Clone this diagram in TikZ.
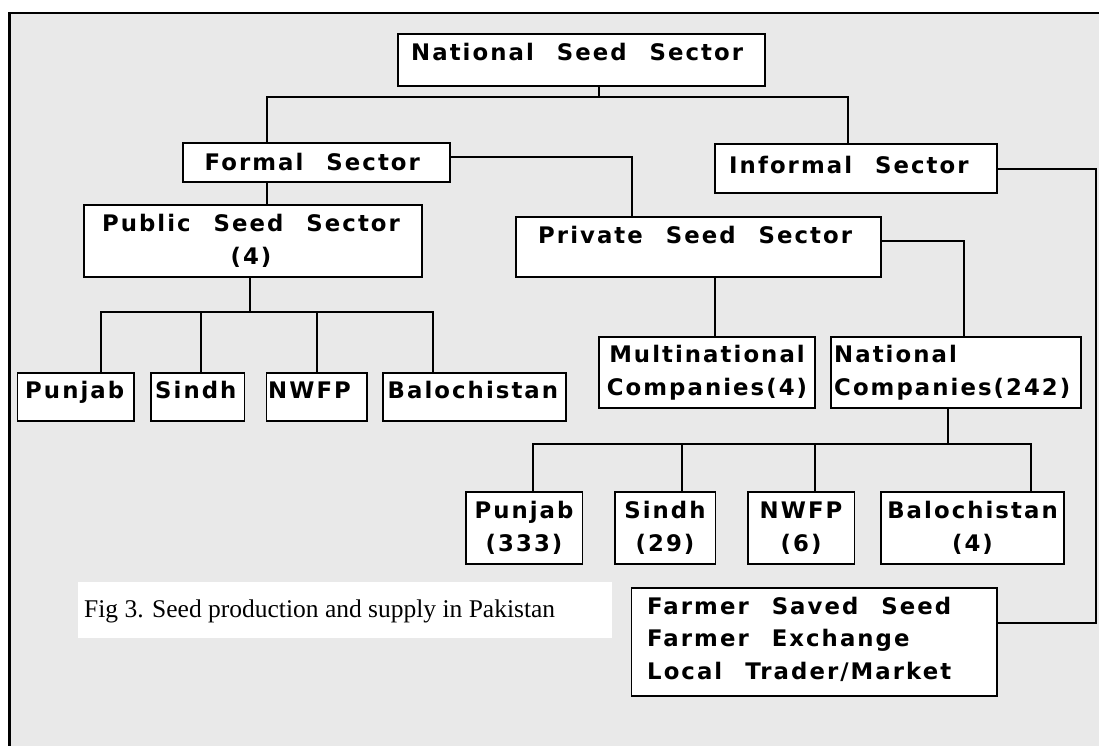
\documentclass[tikz,border=0pt]{standalone}
\usepackage{fontspec}
\setmainfont{Liberation Serif}
\newfontfamily\boxfamily[LetterSpace=9,WordSpace=2.3]{DejaVu Sans}
\usetikzlibrary{fit}
\definecolor{panel}{RGB}{233,233,233}
\tikzset{
  boxst/.style={draw=black, fill=white, line width=1.5pt, inner sep=0pt},
  lbl/.style={inner sep=0pt, font=\boxfamily\bfseries\fontsize{22.8}{32.5}\selectfont, anchor=base west},
  clbl/.style={lbl, anchor=base, align=center},
  wire/.style={draw=black, line width=1.5pt},
}
\newcommand\mkbox[5]{\node[boxst, fit={(#2,#3) (#4,#5)}] (#1) {};}
\begin{document}
\begin{tikzpicture}[x=1pt,y=-1pt]
\useasboundingbox (0,0) rectangle (1099,745);
\clip (0,0) rectangle (1099,745);
\fill[white] (0,0) rectangle (1099,745);
\draw[fill=panel, line width=2.2pt] (9.5,12.7) rectangle (1130,780);

% boxes
\mkbox{nat}{398}{34}{765}{86}
\mkbox{formal}{183}{143}{450}{182}
\mkbox{inf}{715}{144}{997}{193}
\mkbox{pub}{84}{205}{422}{277}
\mkbox{priv}{516}{217}{881}{277}
\mkbox{pa}{17.5}{373}{134}{421}
\mkbox{pb}{151}{373}{244.5}{421}
\mkbox{pc}{266.5}{373}{367}{421}
\mkbox{pd}{383}{373}{566}{421}
\mkbox{multi}{599}{337}{815}{408}
\mkbox{natc}{831}{337}{1081}{408}
\mkbox{sa}{466}{492}{582.5}{564}
\mkbox{sb}{615}{492}{715.5}{564}
\mkbox{sc}{748}{492}{854.5}{564}
\mkbox{sd}{881}{492}{1064}{564}
\mkbox{farm}{631.5}{588}{997}{696}

% caption panel
\node[fill=white, inner sep=0pt, fit={(78,582) (612,638)}] (cap) {};
\node[inner sep=0pt, anchor=base west, font=\fontsize{25.5}{30}\selectfont] (cap-t) at (84,617) {Fig 3. Seed production and supply in Pakistan};

% labels (multi-line labels are placed by the baseline of their last line)
\node[lbl] (nat-t) at (411,60) {National Seed Sector};
\node[lbl] (formal-t) at (204.5,170) {Formal Sector};
\node[lbl] (inf-t) at (729,173) {Informal Sector};
\node[clbl] (pub-t) at (251,264) {Public Seed Sector\\(4)};
\node[lbl] (priv-t) at (538,243) {Private Seed Sector};
\node[lbl] (pa-t) at (25,398) {Punjab};
\node[lbl] (pb-t) at (155,398) {Sindh};
\node[lbl] (pc-t) at (268,398) {NWFP};
\node[lbl] (pd-t) at (387.5,398) {Balochistan};
\node[clbl] (multi-t) at (707,395) {Multinational\\Companies(4)};
\node[lbl, align=left] (natc-t) at (834,395) {National\\Companies(242)};
\node[clbl] (sa-t) at (524,551) {Punjab\\(333)};
\node[clbl] (sb-t) at (665,551) {Sindh\\(29)};
\node[clbl] (sc-t) at (801,551) {NWFP\\(6)};
\node[clbl] (sd-t) at (972.5,551) {Balochistan\\(4)};
\node[lbl, align=left] (farm-t) at (647,679) {Farmer Saved Seed\\Farmer Exchange\\Local Trader/Market};

% junction points of the connectors
\coordinate (n0) at (599,97);
\coordinate (nL) at (267,97);
\coordinate (nR) at (848,97);
\coordinate (f1) at (632,157);
\coordinate (i1) at (1096,169);
\coordinate (i2) at (1096,623);
\coordinate (p1) at (964,241);
\coordinate (p2) at (715,300);
\coordinate (q0) at (250,312);
\coordinate (qa) at (101,312);
\coordinate (qb) at (201,312);
\coordinate (qc) at (317,312);
\coordinate (qd) at (433,312);
\coordinate (r0) at (948,444);
\coordinate (ra) at (533,444);
\coordinate (rb) at (682,444);
\coordinate (rc) at (815,444);
\coordinate (rd) at (1031,444);

% connectors
\draw[wire] (n0 |- nat.south) -- (n0);
\draw[wire] (nL |- formal.north) -- (nL) -- (nR) -- (nR |- inf.north);
\draw[wire] (nL |- formal.south) -- (nL |- pub.north);
\draw[wire] (f1 -| formal.east) -- (f1) -- (f1 |- priv.north);
\draw[wire] (i1 -| inf.east) -- (i1) -- (i2) -- (i2 -| farm.east);
\draw[wire] (p1 -| priv.east) -- (p1) -- (p1 |- natc.north);
\draw[wire] (p2 |- priv.south) -- (p2 |- multi.north);
\draw[wire] (q0 |- pub.south) -- (q0);
\draw[wire] (qa |- pa.north) -- (qa) -- (qd) -- (qd |- pd.north);
\draw[wire] (qb) -- (qb |- pb.north);
\draw[wire] (qc) -- (qc |- pc.north);
\draw[wire] (r0 |- natc.south) -- (r0);
\draw[wire] (ra |- sa.north) -- (ra) -- (rd) -- (rd |- sd.north);
\draw[wire] (rb) -- (rb |- sb.north);
\draw[wire] (rc) -- (rc |- sc.north);
\end{tikzpicture}
\end{document}
